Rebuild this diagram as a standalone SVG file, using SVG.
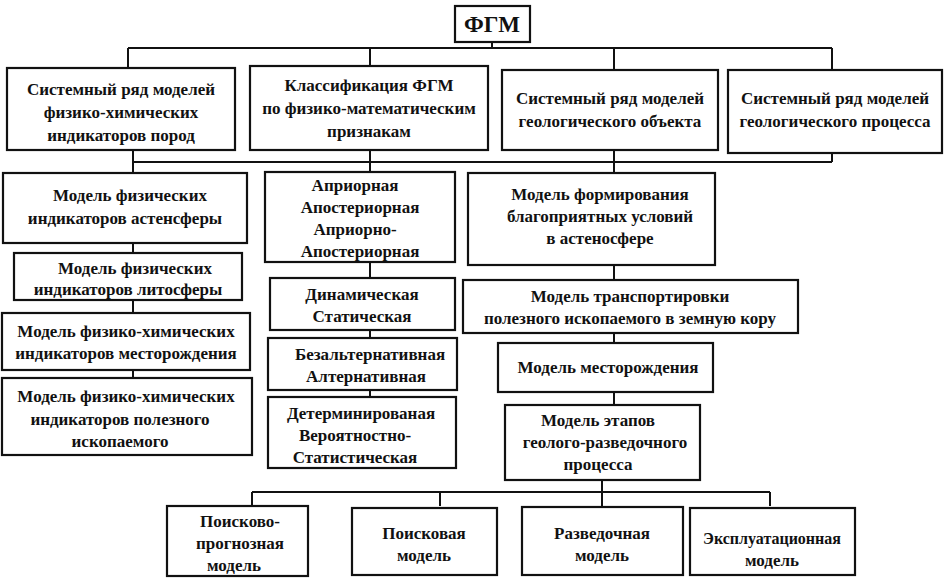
<svg xmlns="http://www.w3.org/2000/svg" width="945" height="585" viewBox="0 0 945 585">
<style>
rect{fill:#fff;stroke:#111;stroke-width:2.2}
text{font-family:"Liberation Serif","DejaVu Serif",serif;font-weight:bold;font-size:17px;text-anchor:middle;fill:#111}
#connectors path{fill:none;stroke:#111;stroke-width:2}
</style>
<rect width="945" height="585" style="stroke:none"/>
<g id="connectors">
<path d="M492 42V48M128 48H832M128 48V68M370 48V66M614 48V70M832 48V70"/>
<path d="M133 150V162M370 150V162M614 150V162M832 153V162M133 162H832M133 162V173M370 162V172M614 162V173"/>
<path d="M133 243V253M133 300V313M133 370V378"/>
<path d="M370 262V278M370 330V338M370 390V397"/>
<path d="M614 265V280M614 333V343M614 392V405"/>
<path d="M602 480V492M252 492H770M252 492V506M440 492V506M602 492V506M770 492V506"/>
</g>
<g id="n0"><rect x="455" y="6" width="75" height="36"/><text x="492" y="32" style="font-size:23px">ФГМ</text></g>
<g id="n1"><rect x="7" y="68" width="228" height="82"/><text x="121" y="95">Системный ряд моделей</text><text x="121" y="118">физико-химических</text><text x="121" y="141">индикаторов пород</text></g>
<g id="n2"><rect x="250" y="66" width="238" height="84"/><text x="369" y="91">Классификация ФГМ</text><text x="369" y="114">по физико-математическим</text><text x="369" y="137">признакам</text></g>
<g id="n3"><rect x="502" y="70" width="216" height="80"/><text x="610" y="104">Системный ряд моделей</text><text x="610" y="127">геологического объекта</text></g>
<g id="n4"><rect x="728" y="70" width="214" height="83"/><text x="835" y="104">Системный ряд моделей</text><text x="835" y="127">геологического процесса</text></g>
<g id="l1"><rect x="3" y="173" width="244" height="70"/><text x="130" y="201">Модель физических</text><text x="125" y="224">индикаторов астенсферы</text></g>
<g id="l2"><rect x="14" y="253" width="228" height="47"/><text x="135" y="274">Модель физических</text><text x="128" y="295">индикаторов литосферы</text></g>
<g id="l3"><rect x="2" y="313" width="248" height="57"/><text x="126" y="337">Модель физико-химических</text><text x="126" y="359">индикаторов месторождения</text></g>
<g id="l4"><rect x="2" y="378" width="250" height="77"/><text x="126" y="402">Модель физико-химических</text><text x="120" y="425">индикаторов полезного</text><text x="120" y="447">ископаемого</text></g>
<g id="m1"><rect x="265" y="172" width="190" height="90"/><text x="355" y="191">Априорная</text><text x="360" y="213">Апостериорная</text><text x="355" y="235">Априорно-</text><text x="360" y="257">Апостериорная</text></g>
<g id="m2"><rect x="270" y="278" width="185" height="52"/><text x="362" y="300">Динамическая</text><text x="362" y="322">Статическая</text></g>
<g id="m3"><rect x="268" y="338" width="189" height="52"/><text x="370" y="360">Безальтернативная</text><text x="366" y="382">Алтернативная</text></g>
<g id="m4"><rect x="268" y="397" width="188" height="71"/><text x="361" y="419">Детерминированая</text><text x="355" y="441">Вероятностно-</text><text x="355" y="463">Статистическая</text></g>
<g id="r1"><rect x="468" y="173" width="247" height="92"/><text x="600" y="200">Модель формирования</text><text x="600" y="222">благоприятных условий</text><text x="600" y="244">в астеносфере</text></g>
<g id="r2"><rect x="463" y="280" width="335" height="53"/><text x="630" y="302">Модель транспортировки</text><text x="630" y="324">полезного ископаемого в земную кору</text></g>
<g id="r3"><rect x="498" y="343" width="215" height="49"/><text x="608" y="373">Модель месторождения</text></g>
<g id="r4"><rect x="505" y="405" width="195" height="75"/><text x="598" y="426">Модель этапов</text><text x="605" y="448">геолого-разведочного</text><text x="598" y="470">процесса</text></g>
<g id="p1"><rect x="167" y="506" width="141" height="70"/><text x="240" y="527">Поисково-</text><text x="240" y="549">прогнозная</text><text x="234" y="571">модель</text></g>
<g id="p2"><rect x="352" y="508" width="145" height="67"/><text x="424" y="539">Поисковая</text><text x="424" y="561">модель</text></g>
<g id="p3"><rect x="522" y="507" width="161" height="68"/><text x="602" y="539">Разведочная</text><text x="602" y="561">модель</text></g>
<g id="p4"><rect x="690" y="508" width="165" height="67"/><text x="772" y="544" style="font-size:16px">Эксплуатационная</text><text x="772" y="566">модель</text></g>
</svg>
